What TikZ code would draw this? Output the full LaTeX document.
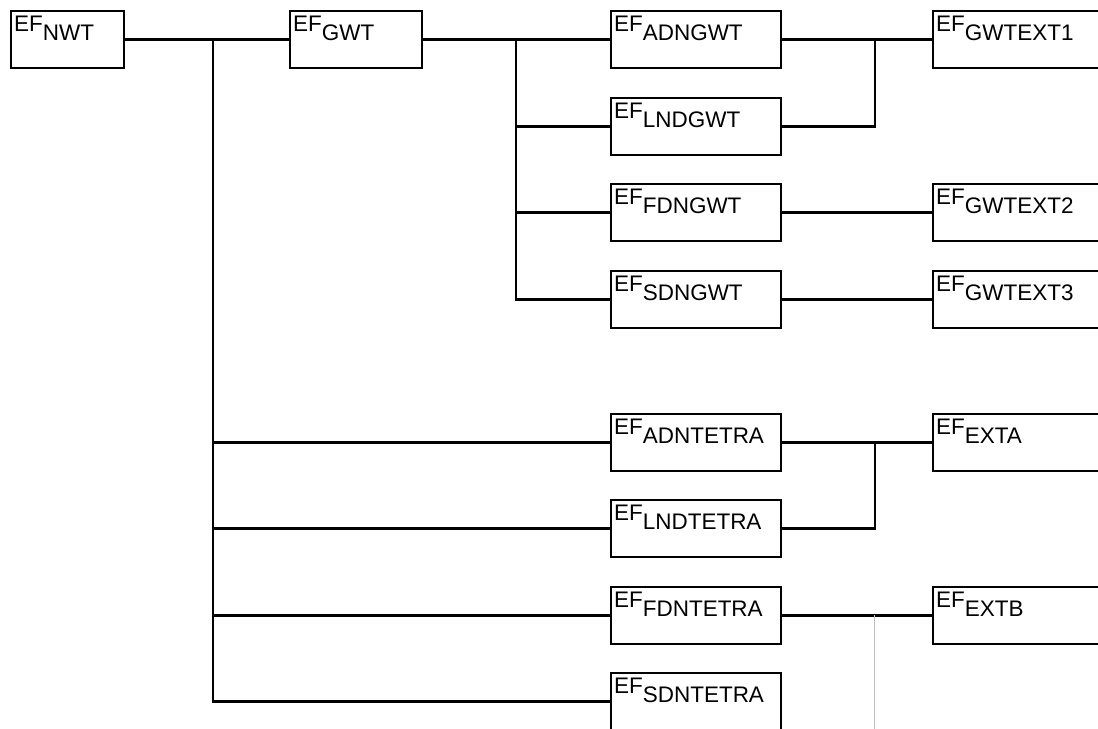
\documentclass[tikz,border=0pt]{standalone}
\usepackage{fontspec}
\setmainfont{Liberation Sans}

\newcommand{\ef}[1]{EF\raisebox{-0.19cm}{#1}}

\begin{document}
\begin{tikzpicture}[
    x=0.02cm, y=-0.02cm,
    box/.style={
        draw,
        line width=1.2pt,
        rectangle,
        anchor=north west,
        inner xsep=0.06cm,
        inner ysep=0pt,
        text height=0.4cm,
        text depth=0.74cm,
        align=left,
        font=\fontsize{12.8}{15}\selectfont
    },
    small/.style={box, text width=2.14cm},
    medium/.style={box, text width=2.52cm},
    wide/.style={box, text width=3.28cm},
    link/.style={
        draw=black,
        line width=1.25pt
    },
    guide/.style={
        draw=gray!50,
        line width=0.3pt
    }
]
\clip (0,0) rectangle (1098,728);

% Stam
\node[small] (nwt) at (10,10) {\ef{NWT}};
\node[medium] (gwt) at (289,10) {\ef{GWT}};

% GWT-tak
\node[wide] (adngwt) at (610,10) {\ef{ADNGWT}};
\node[wide] (lndgwt) at (610,97) {\ef{LNDGWT}};
\node[wide] (fdngwt) at (610,183) {\ef{FDNGWT}};
\node[wide] (sdngwt) at (610,270) {\ef{SDNGWT}};

% TETRA-tak
\node[wide] (adntetra) at (610,413) {\ef{ADNTETRA}};
\node[wide] (lndtetra) at (610,499) {\ef{LNDTETRA}};
\node[wide] (fdntetra) at (610,586) {\ef{FDNTETRA}};
\node[wide] (sdntetra) at (610,672) {\ef{SDNTETRA}};

% Extensies
\node[wide] (ext1) at (932,10) {\ef{GWTEXT1}};
\node[wide] (ext2) at (932,183) {\ef{GWTEXT2}};
\node[wide] (ext3) at (932,270) {\ef{GWTEXT3}};
\node[wide] (exta) at (932,413) {\ef{EXTA}};
\node[wide] (extb) at (932,586) {\ef{EXTB}};

% Knooppunten
\coordinate (trunk) at (213,38.5);
\coordinate (gwtj) at (516,38.5);
\coordinate (j1) at (875,38.5);
\coordinate (j2) at (875,441.5);
\coordinate (g1) at (874,614.5);
\coordinate (g2) at (874,740);

% Verbindingen
\draw[link] (nwt) -- (gwt);
\draw[link] (gwt) -- (adngwt);

\foreach \n in {adntetra,lndtetra,fdntetra,sdntetra}
    \draw[link] (trunk) |- (\n.west);

\foreach \n in {lndgwt,fdngwt,sdngwt}
    \draw[link] (gwtj) |- (\n.west);

\draw[link] (adngwt) -- (ext1);
\draw[link] (lndgwt.east) -| (j1);
\draw[link] (fdngwt) -- (ext2);
\draw[link] (sdngwt) -- (ext3);

\draw[link] (adntetra) -- (exta);
\draw[link] (lndtetra.east) -| (j2);
\draw[link] (fdntetra) -- (extb);

\draw[guide] (g1) -- (g2);

\end{tikzpicture}
\end{document}
